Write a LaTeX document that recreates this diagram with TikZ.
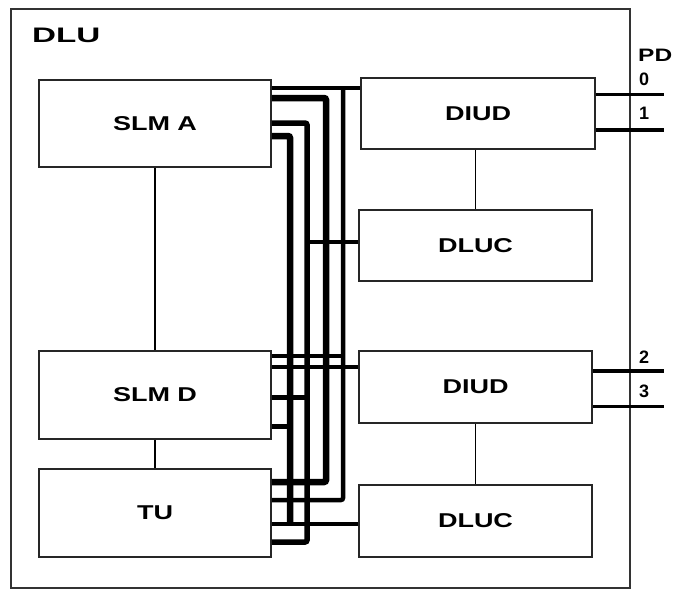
\documentclass[tikz,border=0pt]{standalone}
\usepackage{fontspec}
\setsansfont{Liberation Sans}
\usepackage{graphicx}
\usetikzlibrary{positioning}
\newcommand{\wide}[1]{\scalebox{1.35}[1]{#1}}
\tikzstyle{blk} = [draw=black!85, line width=1.5pt, minimum width=232pt, inner sep=0pt, font=\sffamily\bfseries\fontsize{20}{22}\selectfont]
\tikzstyle{lbl} = [inner sep=0pt, font=\sffamily\bfseries\fontsize{18}{20}\selectfont]
\tikzstyle{bus} = [line width=5pt, rounded corners=2pt]
\tikzstyle{link} = [line width=1.3pt]

\begin{document}
\begin{tikzpicture}[x=1pt,y=-1pt]
    \useasboundingbox (0,0) rectangle (676,590);
    % unit frame
    \node[draw=black!80, line width=2pt, minimum width=619pt, minimum height=579pt] (dlu) at (320.5,298.5) {};
    \node[lbl, font=\sffamily\bfseries\fontsize{21}{23}\selectfont, anchor=west] (dlut) at (32,35.5) {\scalebox{1.58}[1]{DLU}};
    % blocks
    \node[blk, minimum height=87pt] (slma) at (155,123.5) {\wide{SLM A}};
    \node[blk, minimum height=88pt] (slmd) at (155,395) {\wide{SLM D}};
    \node[blk, minimum height=88pt] (tu) at (155,513) {\wide{TU}};
    \node[blk, minimum width=234pt, minimum height=71pt] (diuda) at (478,113.5) {\wide{DIUD}};
    \node[blk, minimum width=233pt, minimum height=71pt] (dluca) at (475.5,245.5) {\wide{DLUC}};
    \node[blk, minimum width=233pt, minimum height=72pt] (diudb) at (475.5,387) {\wide{DIUD}};
    \node[blk, minimum width=233pt, minimum height=72pt] (dlucb) at (475.5,521) {\wide{DLUC}};
    \draw[link] (slma) -- (slmd);
    \draw[link] (slmd) -- (tu);
    \draw[link] (diuda.south -| dluca.north) -- (dluca.north);
    \draw[link] (diudb) -- (dlucb);
    % bus columns
    \coordinate (ca) at (290,0);
    \coordinate (cb) at (307,0);
    \coordinate (cc) at (326,0);
    \coordinate (cd) at (343,0);
    \draw[bus, line width=4.5pt] (slma.east |- 0,88) -- (diuda.west |- 0,88);
    \draw[bus, line width=4.5pt] (cd |- 0,88) -- (cd |- 0,500) -- (tu.east |- 0,500);
    \draw[bus, line width=6.5pt] (slma.east |- 0,98) -| (cc |- 0,482) -- (tu.east |- 0,482);
    \draw[bus, line width=5.5pt] (slma.east |- 0,123) -| (cb |- 0,542) -- (tu.east |- 0,542);
    \draw[bus, line width=6.5pt] (slma.east |- 0,136) -| (ca |- 0,524);
    \draw[bus, line width=4.5pt] (cb |- 0,242) -- (dluca.west |- 0,242);
    \draw[bus, line width=4pt] (slmd.east |- 0,356) -- (cd |- 0,356);
    \draw[bus, line width=4pt] (slmd.east |- 0,367) -- (diudb.west |- 0,367);
    \draw[bus] (slmd.east |- 0,397) -- (cb |- 0,397);
    \draw[bus] (slmd.east |- 0,426) -- (ca |- 0,426);
    \draw[bus, line width=4pt] (tu.east |- 0,524) -- (dlucb.west |- 0,524);
    % PD ports
    \coordinate (p0) at (664,94);
    \coordinate (p1) at (664,130);
    \coordinate (p2) at (664,371);
    \coordinate (p3) at (664,406);
    \draw[line width=3pt] (diuda.east |- p0) -- (p0);
    \draw[line width=4.5pt] (diuda.east |- p1) -- (p1);
    \draw[line width=4.5pt] (diudb.east |- p2) -- (p2);
    \draw[line width=3pt] (diudb.east |- p3) -- (p3);
    \node[lbl, anchor=west] (pd) at (638,55.5) {\scalebox{1.36}[1]{PD}};
    \foreach \n/\y in {0/79,1/113.5,2/357,3/391} \node[lbl, anchor=west] (n\n) at (639,\y) {\n};
\end{tikzpicture}
\end{document}
